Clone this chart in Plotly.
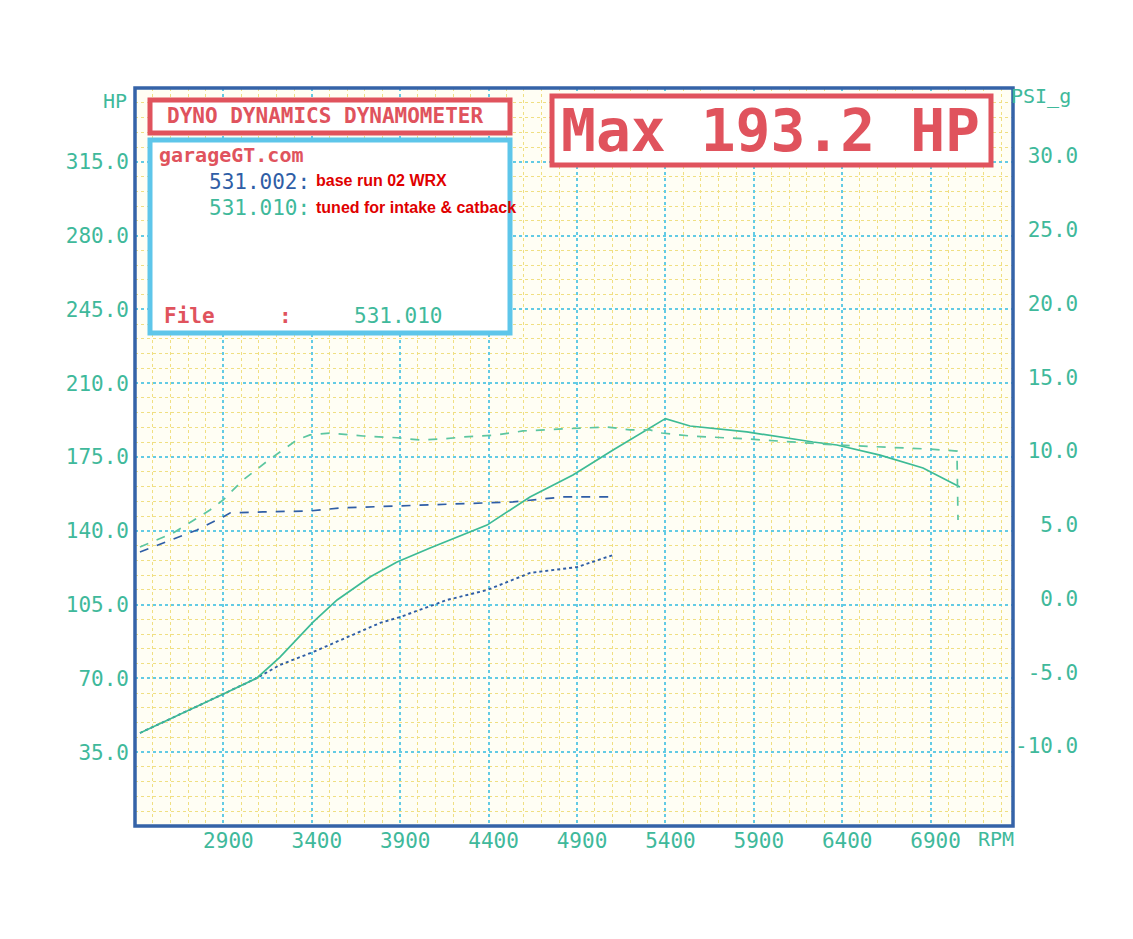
import plotly.graph_objects as go

# ---- data ----
rpm_ticks = [2900, 3400, 3900, 4400, 4900, 5400, 5900, 6400, 6900]
hp_ticks = [35, 70, 105, 140, 175, 210, 245, 280, 315]
psi_ticks = [-10, -5, 0, 5, 10, 15, 20, 25, 30]

# 531.002 base run 02 WRX
base_hp_rpm = [2428, 2615, 2864, 3090, 3220, 3407, 3599, 3786, 3899, 4165, 4391, 4634, 4900, 5104]
base_hp = [44.1, 51.3, 61.2, 70.2, 76.4, 82.5, 89.6, 96.3, 99.1, 107.2, 111.9, 120.0, 122.8, 128.5]
base_psi_rpm = [2428, 2558, 2751, 2898, 2937, 3124, 3390, 3559, 3729, 3899, 4255, 4538, 4821, 5013, 5087]
base_psi = [3.16, 3.77, 4.65, 5.53, 5.80, 5.87, 5.94, 6.14, 6.21, 6.28, 6.41, 6.55, 6.89, 6.89, 6.89]

# 531.010 tuned for intake & catback
tuned_hp_rpm = [2428, 2615, 2864, 3090, 3220, 3407, 3543, 3729, 3882, 4069, 4391, 4634, 4877,
                5104, 5296, 5400, 5539, 5861, 6235, 6370, 6614, 6857, 7066]
tuned_hp = [44.1, 51.3, 61.2, 70.2, 80.1, 96.7, 107.2, 118.1, 125.2, 131.8, 142.7, 156.0, 166.5,
            178.3, 187.8, 193.2, 189.7, 186.9, 182.1, 180.7, 175.9, 169.8, 160.8]
tuned_psi_rpm = [2428, 2615, 2824, 2898, 3011, 3164, 3316, 3390, 3503, 3690, 3882, 4012, 4142,
                 4255, 4447, 4594, 4821, 5070, 5200, 5313, 5381, 5539, 5861, 6370, 6879, 7049, 7055]
tuned_psi = [3.50, 4.44, 6.00, 6.68, 8.04, 9.46, 10.75, 11.09, 11.22, 11.02, 10.90, 10.75, 10.82,
             10.95, 11.09, 11.36, 11.50, 11.63, 11.43, 11.43, 11.22, 11.02, 10.82, 10.41, 10.14, 10.00, 5.33]

TEAL = "#3fb99b"
BLUE = "#2f5ea6"
RED = "#e0535d"
CYAN = "#5ec6ea"
MONO = "DejaVu Sans Mono"

# page has an 8px body margin, so work in page pixels and shift by 8
OFF = 8
W, H = 1133 - 2 * OFF, 939 - 2 * OFF
L, R, T, B = 135, 1013, 88, 826


def px(x):
    return (x - L) / (R - L)


def py(y):
    return (B - y) / (B - T)


fig = go.Figure()
fig.add_trace(go.Scatter(x=base_psi_rpm, y=base_psi, yaxis="y2", mode="lines",
                         line=dict(color=BLUE, width=1.7, dash="dash")))
fig.add_trace(go.Scatter(x=tuned_psi_rpm, y=tuned_psi, yaxis="y2", mode="lines",
                         line=dict(color="#5cc6a0", width=1.7, dash="dash")))
fig.add_trace(go.Scatter(x=base_hp_rpm, y=base_hp, mode="lines",
                         line=dict(color=BLUE, width=1.9, dash="dot")))
fig.add_trace(go.Scatter(x=tuned_hp_rpm, y=tuned_hp, mode="lines",
                         line=dict(color="#3dbb95", width=1.7)))

grid_major = dict(showgrid=True, gridcolor="#63cbe4", gridwidth=1.5, griddash="dot")
grid_minor = dict(showgrid=True, gridcolor="#f0df82", gridwidth=1.3, griddash="dot")

fig.update_layout(
    width=W, height=H, autosize=False,
    margin=dict(l=L - OFF, r=W - (R - OFF), t=T - OFF, b=H - (B - OFF), pad=0),
    paper_bgcolor="white", plot_bgcolor="#fffef4",
    showlegend=False,
    font=dict(family=MONO, color=TEAL, size=21),
    xaxis=dict(range=[2400, 7366], tickmode="array", tickvals=rpm_ticks,
               ticktext=[str(v) for v in rpm_ticks], ticks="", ticklabelstandoff=0,
               ticklabelshift=5, zeroline=False, showline=False,
               minor=dict(tickmode="linear", tick0=2400, dtick=100, **grid_minor),
               **grid_major),
    yaxis=dict(range=[0, 350], tickmode="array", tickvals=hp_ticks,
               ticktext=[f"{v:.1f}" for v in hp_ticks], ticks="", ticklabelstandoff=5,
               zeroline=False, showline=False,
               minor=dict(tickmode="linear", tick0=0, dtick=7, **grid_minor),
               **grid_major),
    yaxis2=dict(range=[-15.42, 34.61], overlaying="y", side="right", showgrid=False,
                zeroline=False, tickmode="array", tickvals=psi_ticks,
                ticktext=[f"{v:.1f}".rjust(5, "\u00a0") for v in psi_ticks],
                ticks="", ticklabelstandoff=1),
)

# plot border
fig.add_shape(type="rect", xref="paper", yref="paper", x0=0, x1=1, y0=0, y1=1,
              line=dict(color="#3563a8", width=3.5), layer="above")

# header boxes
fig.add_shape(type="rect", xref="paper", yref="paper", x0=px(150), x1=px(510),
              y0=py(133), y1=py(100), line=dict(color=RED, width=5), fillcolor="white")
fig.add_shape(type="rect", xref="paper", yref="paper", x0=px(150), x1=px(510),
              y0=py(333), y1=py(140), line=dict(color=CYAN, width=5), fillcolor="white")
fig.add_shape(type="rect", xref="paper", yref="paper", x0=px(552), x1=px(991),
              y0=py(165), y1=py(96), line=dict(color=RED, width=5), fillcolor="white")


def note(text, x, y, color, size=21, anchor="left", family=MONO, bold=False):
    if bold:
        text = f"<b>{text}</b>"
    fig.add_annotation(text=text, xref="paper", yref="paper", x=px(x), y=py(y),
                       xanchor=anchor, yanchor="middle", showarrow=False,
                       font=dict(family=family, size=size, color=color))


note("DYNO DYNAMICS DYNAMOMETER", 325, 116, RED, size=21, anchor="center", bold=True)
note("Max 193.2 HP", 770, 131, RED, size=58, anchor="center", bold=True)
note("garageGT.com", 157, 155, RED, size=20, bold=True)
note("531.002:", 207, 182, BLUE, size=21)
note("base run 02 WRX", 314, 181, "#e00000", size=16, family="Liberation Sans", bold=True)
note("531.010:", 207, 208, TEAL, size=21)
note("tuned for intake &amp; catback", 314, 207, "#e00000", size=16,
     family="Liberation Sans", bold=True)
note("File", 162, 316, RED, size=21, bold=True)
note(":", 285, 316, RED, size=21, anchor="center", bold=True)
note("531.010", 352, 316, TEAL, size=21)
note("HP", 129, 101, TEAL, size=20, anchor="right")
note("PSI_g", 1009, 96, TEAL, size=20)
note("RPM", 976, 839, TEAL, size=20)

fig.write_html("out.html")
